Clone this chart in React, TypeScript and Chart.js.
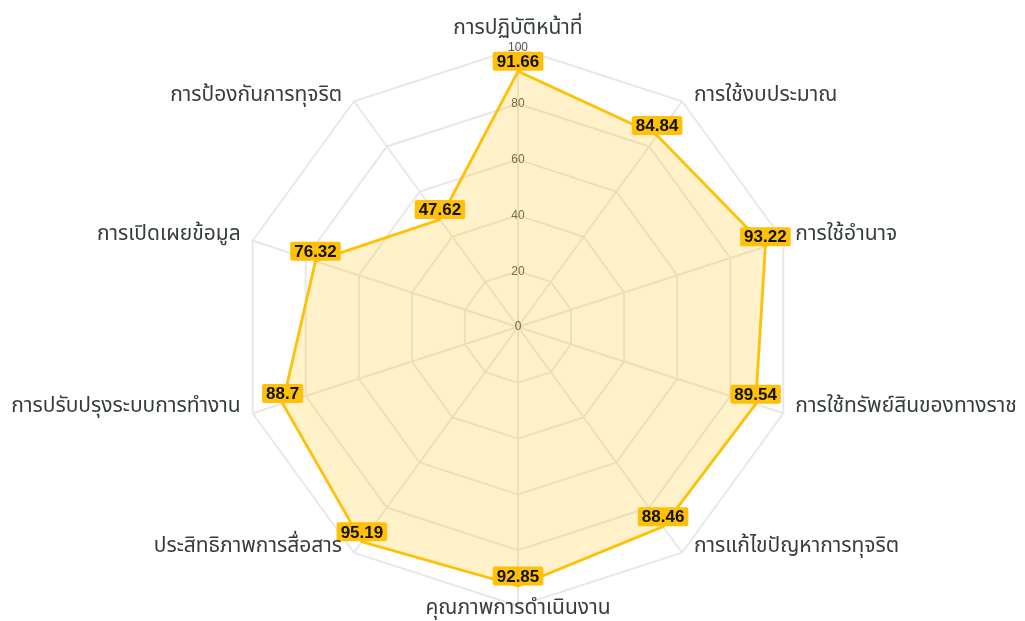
import React, { useEffect, useRef } from "react";
import { Chart, registerables } from "chart.js";

Chart.register(...registerables);

const categories = [
  "การปฏิบัติหน้าที่",
  "การใช้งบประมาณ",
  "การใช้อำนาจ",
  "การใช้ทรัพย์สินของทางราช",
  "การแก้ไขปัญหาการทุจริต",
  "คุณภาพการดำเนินงาน",
  "ประสิทธิภาพการสื่อสาร",
  "การปรับปรุงระบบการทำงาน",
  "การเปิดเผยข้อมูล",
  "การป้องกันการทุจริต",
];
const scores = [91.66, 84.84, 93.22, 89.54, 88.46, 92.85, 95.19, 88.7, 76.32, 47.62];

const THAI_FONT = "Tahoma, 'Noto Sans Thai', 'Noto Sans', sans-serif";

const zeroTickPlugin = {
  id: "zeroTick",
  beforeDatasetsDraw(chart: any) {
    const s = chart.scales.r;
    const ctx = chart.ctx;
    ctx.save();
    ctx.font = "12px Arial, 'Liberation Sans', sans-serif";
    ctx.fillStyle = "#555";
    ctx.textAlign = "center";
    ctx.textBaseline = "middle";
    ctx.fillText("0", s.xCenter, s.yCenter);
    ctx.restore();
  },
};

const pointLabelPlugin = {
  id: "customPointLabels",
  afterDatasetsDraw(chart: any) {
    const s = chart.scales.r;
    const ctx = chart.ctx;
    ctx.save();
    ctx.font = "21px " + THAI_FONT;
    ctx.fillStyle = "#373d3f";
    ctx.textBaseline = "middle";
    categories.forEach((label, i) => {
      const p = s.getPointPosition(i, s.drawingArea);
      const dx = p.x - s.xCenter;
      let x = p.x;
      let y = p.y;
      if (Math.abs(dx) < 1) {
        ctx.textAlign = "center";
        y = p.y < s.yCenter ? p.y - 18 : p.y + 4;
      } else if (dx > 0) {
        ctx.textAlign = "left";
        x = p.x + 12;
        y = p.y - 5;
      } else {
        ctx.textAlign = "right";
        x = p.x - 12;
        y = p.y - 5;
      }
      ctx.fillText(label, x, y);
    });
    ctx.restore();
  },
};

const valueLabelPlugin = {
  id: "valueLabels",
  afterDatasetsDraw(chart: any) {
    const ctx = chart.ctx;
    const meta = chart.getDatasetMeta(0);
    const data = chart.data.datasets[0].data;
    ctx.save();
    ctx.font = "bold 17px Arial, 'Liberation Sans', sans-serif";
    ctx.textAlign = "center";
    ctx.textBaseline = "middle";
    meta.data.forEach((pt: any, i: number) => {
      const text = String(data[i]);
      const w = ctx.measureText(text).width + 8;
      const h = 19;
      const cx = pt.x;
      const cy = pt.y - 10;
      ctx.fillStyle = "#FFC107";
      ctx.beginPath();
      if (ctx.roundRect) ctx.roundRect(cx - w / 2, cy - h / 2, w, h, 2);
      else ctx.rect(cx - w / 2, cy - h / 2, w, h);
      ctx.fill();
      ctx.fillStyle = "#111";
      ctx.fillText(text, cx, cy + 1);
    });
    ctx.restore();
  },
};

export default function App() {
  const ref = useRef<HTMLCanvasElement>(null);
  useEffect(() => {
    if (!ref.current) return;
    const chart = new Chart(ref.current, {
      type: "radar",
      data: {
        labels: categories,
        datasets: [
          {
            data: scores,
            borderColor: "#FFC107",
            backgroundColor: "rgba(255,193,7,0.21)",
            borderWidth: 2.8,
            pointRadius: 0,
            pointHoverRadius: 0,
            fill: true,
          },
        ],
      },
      options: {
        animation: false,
        responsive: true,
        maintainAspectRatio: false,
        layout: { padding: { top: 40, bottom: 7, left: 11, right: 0 } },
        plugins: { legend: { display: false }, tooltip: { enabled: false } },
        scales: {
          r: {
            min: 0,
            max: 100,
            ticks: {
              stepSize: 20,
              showLabelBackdrop: false,
              color: "#555",
              font: { size: 12, family: "Arial, 'Liberation Sans', sans-serif" },
            },
            grid: { color: "#e8e8e8", lineWidth: 2 },
            angleLines: { color: "#e8e8e8", lineWidth: 2 },
            pointLabels: { display: false },
          },
        },
      },
      plugins: [zeroTickPlugin, valueLabelPlugin, pointLabelPlugin],
    });
    return () => chart.destroy();
  }, []);
  return (
    <div style={{ position: "fixed", left: 0, top: 0, width: 1025, height: 621 }}>
      <canvas ref={ref} />
    </div>
  );
}
